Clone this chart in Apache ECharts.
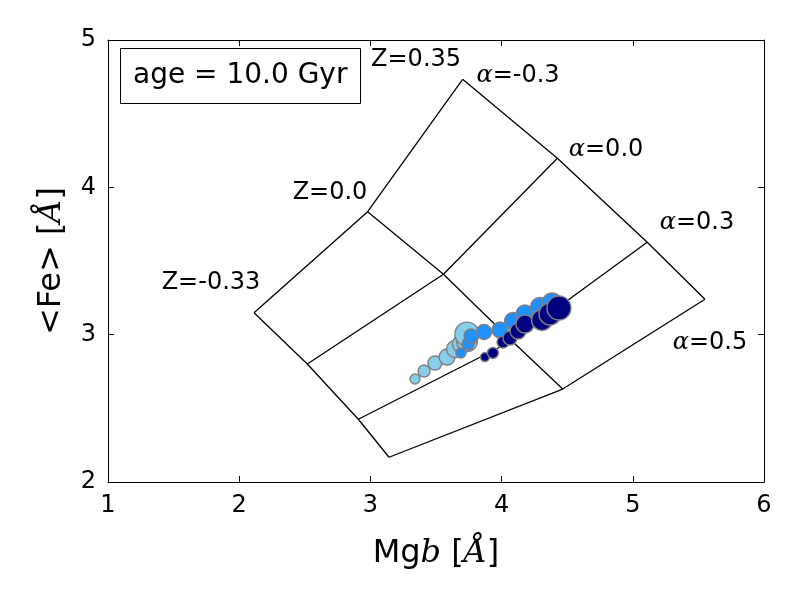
<!DOCTYPE html>
<html lang="en">
<head>
<meta charset="UTF-8">
<title>Mgb - Fe</title>
<script src="https://cdn.jsdelivr.net/npm/echarts@6.0.0/dist/echarts.min.js"></script>
<style>
    html, body { margin: 0; padding: 0; background: #fff; }
    #chart { width: 800px; height: 600px; }
</style>
</head>
<body>
<div id="chart"></div>
<script type="text/javascript">
// model grid, rows = Z (-0.33, 0.0, 0.35), columns = alpha (-0.3, 0.0, 0.3, 0.5)
var zLabels = ['Z=-0.33', 'Z=0.0', 'Z=0.35'];
var alphaLabels = ['-0.3', '0.0', '0.3', '0.5'];
var gridMgb = [
    [2.113, 2.519, 2.908, 3.142],
    [2.979, 3.557, 4.079, 4.466],
    [3.703, 4.425, 5.110, 5.550]
];
var gridFe = [
    [3.149, 2.801, 2.426, 2.168],
    [3.835, 3.410, 2.957, 2.631],
    [4.733, 4.197, 3.627, 3.240]
];
// where the grid labels sit (data units)
var zLabelMgb = [1.785, 2.692, 3.348];
var zLabelFe = [3.351, 3.961, 4.864];
var aLabelMgb = [4.125, 4.796, 5.489, 5.588];
var aLabelFe = [4.756, 4.253, 3.758, 2.943];

// measured points, three groups
var lightMgb = [3.340, 3.409, 3.492, 3.584, 3.645, 3.698, 3.736, 3.736];
var lightFe = [2.699, 2.753, 2.808, 2.848, 2.903, 2.937, 2.957, 3.004];
var lightWeight = [10, 12, 14, 16, 17, 19, 21, 24];

var midMgb = [3.690, 3.744, 3.767, 3.866, 3.988, 4.087, 4.178, 4.293, 4.384];
var midFe = [2.876, 2.937, 2.991, 3.018, 3.032, 3.093, 3.140, 3.188, 3.215];
var midWeight = [10, 12, 14, 15, 16, 17, 18, 19, 20];

var darkMgb = [3.873, 3.934, 4.011, 4.064, 4.125, 4.178, 4.308, 4.369, 4.437];
var darkFe = [2.848, 2.876, 2.950, 2.977, 3.025, 3.072, 3.100, 3.140, 3.181];
var darkWeight = [9, 11, 12, 14, 16, 18, 21, 22, 24];

var xTicks = [1, 2, 3, 4, 5, 6];
var yTicks = [2, 3, 4, 5];

var FONT = 'DejaVu Sans';

function pairs(xs, ys) {
    var out = [];
    for (var i = 0; i < xs.length; i++) out.push([xs[i], ys[i]]);
    return out;
}

var series = [];

// constant Z lines
for (var zi = 0; zi < gridMgb.length; zi++) {
    series.push({
        type: 'line', data: pairs(gridMgb[zi], gridFe[zi]),
        symbol: 'none', silent: true, z: 1,
        lineStyle: { color: '#000', width: 1.3 }
    });
}
// constant alpha lines
for (var ai = 0; ai < alphaLabels.length; ai++) {
    var col = [];
    for (var k = 0; k < gridMgb.length; k++) col.push([gridMgb[k][ai], gridFe[k][ai]]);
    series.push({
        type: 'line', data: col,
        symbol: 'none', silent: true, z: 1,
        lineStyle: { color: '#000', width: 1.3 }
    });
}

function dots(xs, ys, ws, color) {
    var d = [];
    for (var i = 0; i < xs.length; i++) {
        d.push({ value: [xs[i], ys[i]], symbolSize: ws[i] });
    }
    return {
        type: 'scatter', data: d, z: 3,
        itemStyle: { color: color, borderColor: '#808080', borderWidth: 1.4, opacity: 1 }
    };
}
series.push(dots(lightMgb, lightFe, lightWeight, '#87CEEB'));
series.push(dots(midMgb, midFe, midWeight, '#1E90FF'));
series.push(dots(darkMgb, darkFe, darkWeight, '#000080'));

// grid labels
var labelData = [];
for (var i = 0; i < zLabels.length; i++) {
    labelData.push({ value: [zLabelMgb[i], zLabelFe[i]], label: { formatter: zLabels[i] } });
}
for (var j = 0; j < alphaLabels.length; j++) {
    labelData.push({ value: [aLabelMgb[j], aLabelFe[j]], label: { formatter: '{a|\u03b1}{n|=' + alphaLabels[j] + '}' } });
}
series.push({
    type: 'scatter', data: labelData, symbolSize: 0, silent: true, z: 4,
    itemStyle: { opacity: 1 },
    label: {
        show: true, position: 'inside', color: '#000',
        fontFamily: FONT, fontSize: 24, textBorderWidth: 0,
        rich: {
            a: { fontFamily: 'DejaVu Serif', fontStyle: 'italic', fontSize: 24, color: '#000' },
            n: { fontFamily: FONT, fontSize: 24, color: '#000' }
        }
    }
});

var chart = echarts.init(document.getElementById('chart'));
var axisCommon = {
    type: 'value',
    axisLine: { show: true, onZero: false, lineStyle: { color: '#000', width: 1 } },
    axisTick: { show: true, inside: true, length: 6, lineStyle: { color: '#000', width: 1 } },
    splitLine: { show: false }
};
var nameRich = {
    n: { fontFamily: FONT, fontSize: 32, color: '#000' },
    i: { fontFamily: 'DejaVu Serif', fontStyle: 'italic', fontSize: 32, color: '#000' }
};
chart.setOption({
    animation: false,
    backgroundColor: '#fff',
    title: {
        text: 'age = 10.0 Gyr',
        left: 120, top: 48,
        padding: [11, 13, 11, 13],
        borderColor: '#000', borderWidth: 1,
        textStyle: { fontFamily: FONT, fontSize: 28, lineHeight: 34, fontWeight: 'normal', color: '#000' }
    },
    grid: { left: 108, right: 36, top: 40, bottom: 118 },
    xAxis: [
        Object.assign({}, axisCommon, {
            min: xTicks[0], max: xTicks[xTicks.length - 1], interval: 1,
            position: 'bottom',
            name: '{n|Mg}{i|b}{n| [}{i|\u00c5}{n|]}',
            nameLocation: 'middle', nameGap: 56,
            nameTextStyle: { rich: nameRich },
            axisLabel: { fontFamily: FONT, fontSize: 24, color: '#000', margin: 12 }
        }),
        Object.assign({}, axisCommon, {
            min: xTicks[0], max: xTicks[xTicks.length - 1], interval: 1,
            position: 'top', axisLabel: { show: false }
        })
    ],
    yAxis: [
        Object.assign({}, axisCommon, {
            min: yTicks[0], max: yTicks[yTicks.length - 1], interval: 1,
            position: 'left',
            name: '{n|<Fe> [}{i|\u00c5}{n|]}',
            nameLocation: 'middle', nameGap: 40, nameRotate: 90,
            nameTextStyle: { rich: nameRich },
            axisLabel: { fontFamily: FONT, fontSize: 24, color: '#000', margin: 12 }
        }),
        Object.assign({}, axisCommon, {
            min: yTicks[0], max: yTicks[yTicks.length - 1], interval: 1,
            position: 'right', axisLabel: { show: false }
        })
    ],
    series: series
});
</script>
</body>
</html>
